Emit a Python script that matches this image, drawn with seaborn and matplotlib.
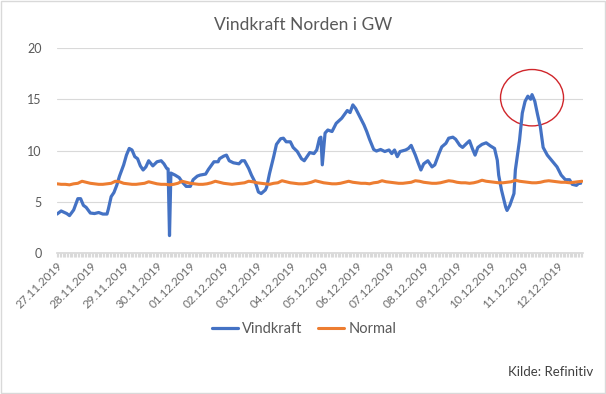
import matplotlib
matplotlib.use("Agg")
import matplotlib.pyplot as plt
import matplotlib.dates as mdates
from matplotlib.patches import Ellipse, Rectangle
import pandas as pd
import seaborn as sns

start = pd.Timestamp("2019-11-27 00:00")

# Vindkraft, timer etter 27.11.2019 00:00 og GW
vind_timer = [0, 3, 7, 9, 12, 15, 17, 19, 21, 24, 27, 30, 33, 36, 37, 39, 41, 43, 45, 48,
              50, 52, 54, 56, 58, 60, 62, 64, 66, 69, 72, 75, 77, 79, 80, 81, 82, 85, 88, 90,
              93, 96, 98, 101, 103, 107, 109, 113, 116, 117, 120, 122, 124, 127, 131, 133, 135, 138, 140, 143,
              145, 147, 150, 151, 153, 156, 158, 161, 163, 165, 168, 170, 173, 176, 178, 180, 182, 185, 187, 189,
              190, 191, 193, 195, 198, 201, 205, 209, 211, 213, 215, 218, 221, 223, 225, 228, 230, 233, 236, 239,
              241, 243, 245, 247, 251, 253, 255, 258, 260, 262, 264, 267, 270, 272, 275, 277, 280, 282, 285, 287,
              290, 292, 295, 297, 299, 301, 303, 306, 309, 312, 315, 317, 318, 320, 323, 324, 326, 329, 330, 333,
              335, 337, 339, 341, 342, 344, 346, 348, 350, 353, 356, 360, 363, 366, 369, 371, 374, 376, 377]
vind_gw = [3.8, 4.1, 3.85, 3.65, 4.2, 5.3, 5.3, 4.65, 4.45, 3.9, 3.85, 3.95, 3.8, 3.8, 4.3, 5.5, 5.9, 6.6, 7.5, 8.6,
           9.55, 10.2, 10.05, 9.4, 9.2, 8.5, 8.1, 8.4, 9.0, 8.5, 8.9, 9.0, 8.7, 8.25, 8.2, 1.7, 7.8, 7.6, 7.35, 6.95,
           6.5, 6.5, 7.15, 7.5, 7.6, 7.7, 8.15, 8.9, 8.9, 9.2, 9.45, 9.55, 9.0, 8.8, 8.7, 9.0, 9.0, 8.25, 7.6, 6.8,
           5.95, 5.8, 6.15, 6.45, 7.75, 9.4, 10.6, 11.15, 11.2, 10.85, 10.85, 10.3, 9.9, 9.2, 9.0, 9.4, 9.8, 9.7, 10.05, 11.2,
           11.3, 8.6, 11.7, 12.0, 11.85, 12.65, 13.15, 13.9, 13.7, 14.45, 14.1, 13.3, 12.5, 11.85, 11.1, 10.1, 9.95, 10.1, 9.9, 10.05,
           9.7, 10.05, 9.4, 9.9, 10.05, 10.2, 10.5, 9.55, 8.8, 8.1, 8.7, 9.0, 8.4, 8.6, 9.7, 10.35, 10.7, 11.2, 11.3, 11.1,
           10.5, 10.3, 10.7, 10.95, 10.2, 9.55, 10.3, 10.6, 10.75, 10.45, 10.2, 9.05, 7.6, 6.15, 4.5, 4.15, 4.65, 5.8, 8.1, 11.0,
           13.65, 14.8, 15.3, 15.0, 15.45, 14.8, 13.5, 12.3, 10.3, 9.55, 9.05, 8.4, 7.6, 7.15, 7.15, 6.7, 6.6, 6.85, 6.8]

# Normal, hver tredje time
normal_timer = list(range(0, 379, 3))
normal_gw = [6.75, 6.7, 6.7, 6.65, 6.75, 6.8, 7.0, 6.9,
             6.8, 6.75, 6.7, 6.7, 6.75, 6.8, 7.0, 6.95,
             6.8, 6.75, 6.7, 6.7, 6.75, 6.8, 6.95, 6.85,
             6.75, 6.7, 6.7, 6.65, 6.7, 6.8, 7.0, 6.9,
             6.8, 6.75, 6.7, 6.7, 6.75, 6.85, 7.0, 6.9,
             6.8, 6.75, 6.7, 6.75, 6.8, 6.85, 7.0, 6.95,
             6.85, 6.8, 6.75, 6.7, 6.8, 6.85, 7.05, 6.95,
             6.85, 6.8, 6.75, 6.75, 6.8, 6.9, 7.05, 6.95,
             6.85, 6.8, 6.75, 6.75, 6.8, 6.9, 7.0, 6.9,
             6.85, 6.8, 6.8, 6.75, 6.85, 6.9, 7.05, 6.95,
             6.9, 6.85, 6.8, 6.8, 6.85, 6.9, 7.05, 7.0,
             6.9, 6.85, 6.8, 6.8, 6.85, 6.95, 7.05, 7.0,
             6.9, 6.85, 6.85, 6.8, 6.85, 6.95, 7.1, 7.0,
             6.95, 6.9, 6.85, 6.85, 6.9, 6.95, 7.1, 7.0,
             6.95, 6.9, 6.85, 6.85, 6.9, 7.0, 7.05, 7.0,
             6.95, 6.9, 6.9, 6.85, 6.9, 6.95, 7.0]

df_vind = pd.DataFrame({"Tid": start + pd.to_timedelta(vind_timer, unit="h"), "GW": vind_gw})
df_normal = pd.DataFrame({"Tid": start + pd.to_timedelta(normal_timer, unit="h"), "GW": normal_gw})

sns.set_theme(style="white")
plt.rcParams['font.family'] = ['Lato', 'DejaVu Sans']

fig = plt.figure(figsize=(6.06, 3.94), dpi=100)
ax = fig.add_axes([57/606, 1-253/394, 526/606, 205/394])

sns.lineplot(data=df_vind, x="Tid", y="GW", color="#4472C4", lw=2.3, label="Vindkraft", ax=ax)
sns.lineplot(data=df_normal, x="Tid", y="GW", color="#ED7D31", lw=2.2, label="Normal", ax=ax)

ax.set_ylim(0, 20)
ax.set_yticks([0, 5, 10, 15, 20])
ax.set_xlim(start, start + pd.Timedelta(hours=378.7))
ax.set_xlabel("")
ax.set_ylabel("")
ax.yaxis.grid(True, color="#D9D9D9", lw=0.8)
ax.xaxis.grid(False)
for s in ["top", "right", "left"]:
    ax.spines[s].set_visible(False)
ax.spines["bottom"].set_color("#D9D9D9")

ax.xaxis.set_major_locator(mdates.DayLocator())
ax.xaxis.set_major_formatter(mdates.DateFormatter("%d.%m.%Y"))
ax.xaxis.set_minor_locator(mdates.HourLocator())
ax.tick_params(axis="x", which="both", bottom=True, length=3, width=0.8, color="#D9D9D9",
               labelsize=8.5, labelcolor="#6B6B6B", pad=2)
plt.setp(ax.get_xticklabels(), rotation=45, ha="right", rotation_mode="anchor")
ax.tick_params(axis="y", length=0, labelsize=9, labelcolor="#595959", pad=11)

# rød sirkel rundt toppen
senter = mdates.date2num(start + pd.Timedelta(hours=342))
ax.add_patch(Ellipse((senter, 15.15), width=1.89, height=5.5, fill=False,
                     edgecolor="#D0262B", lw=1))

handles, labels = ax.get_legend_handles_labels()
ax.get_legend().remove()
fig.legend(handles, labels, loc="center", bbox_to_anchor=(0.502, 1-329/394), ncol=2,
           frameon=False, fontsize=10.5, labelcolor="#595959", handlelength=1.75,
           handletextpad=0.3, columnspacing=1.1)

fig.text(0.5, 1-25/394, "Vindkraft Norden i GW", ha="center", va="center",
         fontsize=12.5, color="#595959")
fig.text(593/606, 1-372/394, "Kilde: Refinitiv", ha="right", va="center",
         fontsize=9.5, color="#404040")

fig.patches.append(Rectangle((0.001, 0.002), 0.997, 0.996, transform=fig.transFigure,
                             fill=False, edgecolor="#D9D9D9", lw=1))

fig.savefig("out.png", dpi=100)
